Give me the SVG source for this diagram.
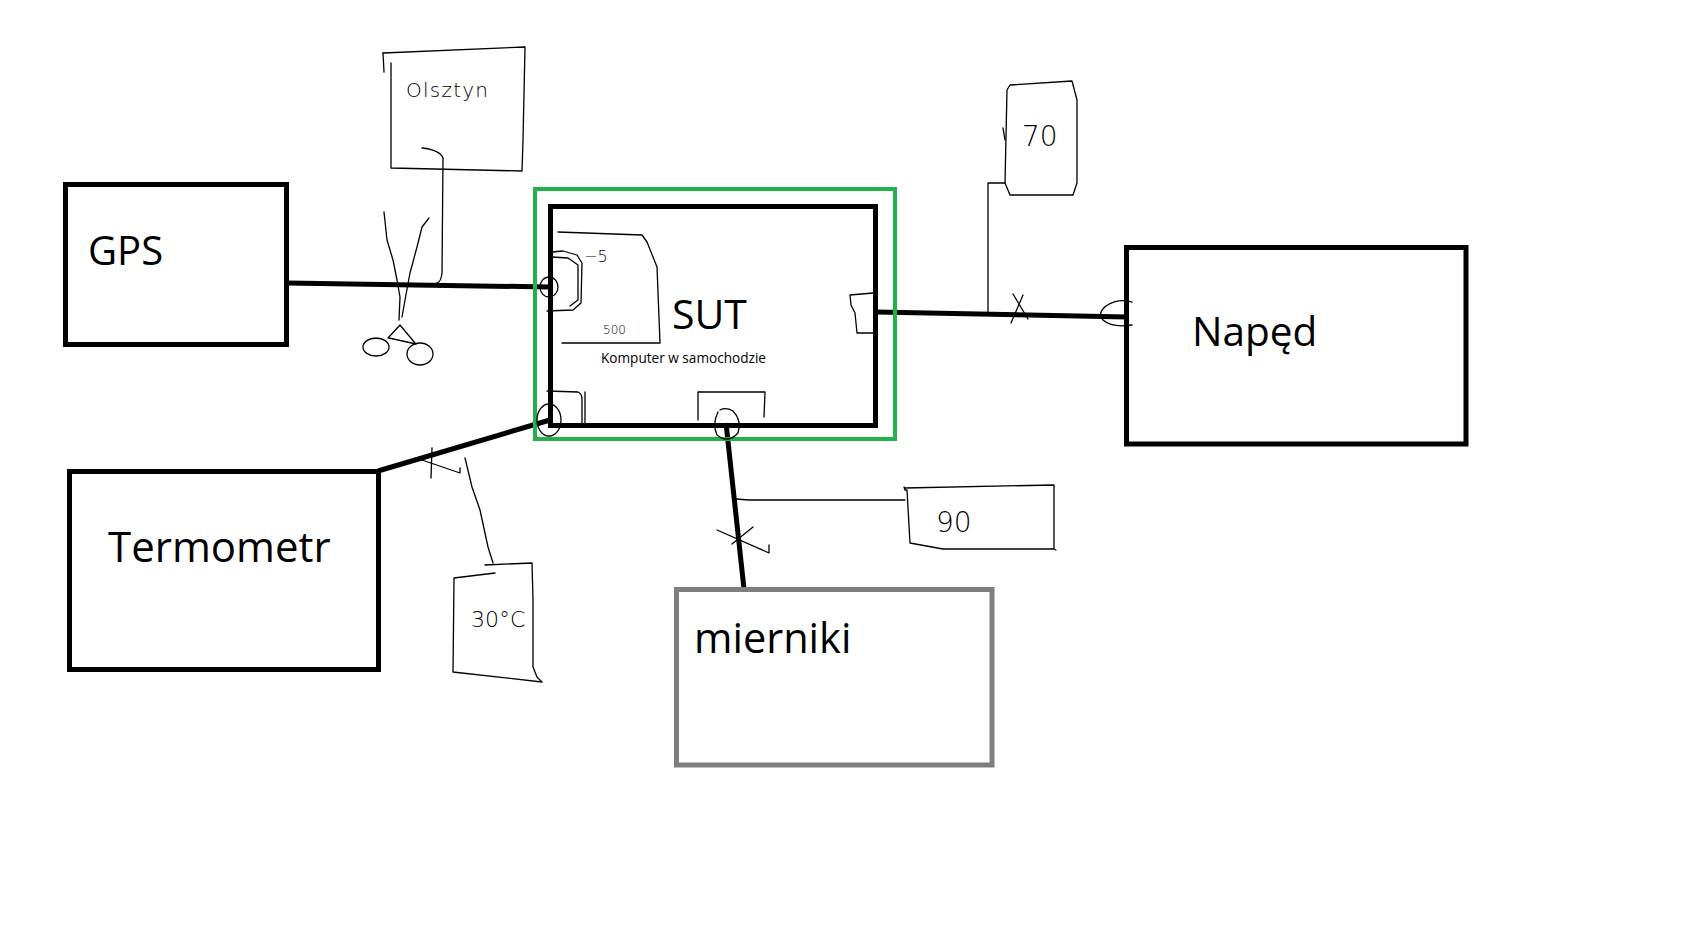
<svg xmlns="http://www.w3.org/2000/svg" width="1692" height="925" viewBox="0 0 1692 925">
<style>
.box{fill:none;stroke:#000;stroke-width:5}
.gray{fill:none;stroke:#7f7f7f;stroke-width:5}
.green{fill:none;stroke:#22b14c;stroke-width:4}
.wire{fill:none;stroke:#000;stroke-width:5;stroke-linecap:butt}
.thin{fill:none;stroke:#000;stroke-width:1.3;stroke-linejoin:round;stroke-linecap:round}
.lbl{font-family:"Open Sans","Noto Sans",sans-serif;fill:#000}
.hw{font-family:"DejaVu Sans","Liberation Sans",sans-serif;font-weight:200;fill:#000}
</style>
<rect width="1692" height="925" fill="#fff"/>

<g id="connectors">
<path class="wire" d="M287,283 L549,287"/>
<path class="wire" d="M876,312 L1127,317"/>
<path class="wire" d="M378,471 L550,420"/>
<path class="wire" d="M726,423 L744,589"/>
</g>

<g id="sut-frame">
<rect class="green" x="535" y="189" width="360" height="250"/>
</g>

<g id="gps">
<rect class="box" x="65.5" y="184.5" width="221" height="160"/>
<text class="lbl" x="88" y="265" font-size="40">GPS</text>
</g>

<g id="sut">
<rect class="box" x="550.5" y="206.5" width="325" height="219"/>
<text class="lbl" x="672" y="329" font-size="41">SUT</text>
<text class="lbl" x="601" y="363" font-size="13.6">Komputer w samochodzie</text>
</g>

<g id="naped">
<rect class="box" x="1126.5" y="247.5" width="339.5" height="196.5"/>
<text class="lbl" x="1192" y="346" font-size="40.5">Napęd</text>
</g>

<g id="termometr">
<rect class="box" x="69.5" y="471.5" width="309" height="198"/>
<text class="lbl" x="108" y="562" font-size="42">Termometr</text>
</g>

<g id="mierniki">
<rect class="gray" x="676.5" y="589.5" width="315.5" height="175.5"/>
<text class="lbl" x="694" y="653" font-size="41.5">mierniki</text>
</g>

<g id="annotations">
<!-- Olsztyn note -->
<path class="thin" d="M383,53 L525,47 L523,140 L522,171 L391,168 L391,63"/>
<path class="thin" d="M383,53 L384,72"/>
<path class="thin" d="M422,148 Q440,150 443,158 L442,273 Q441,282 437,283"/>
<text class="hw" x="406" y="97" font-size="20" textLength="82">Olsztyn</text>
<!-- scissors -->
<path class="thin" d="M384,212 L387,240 L393,260 L397,280 L400,297 L399,320"/>
<path class="thin" d="M429,218 L422,227 L417,247 L410,273 L405,300 L402,317"/>
<path class="thin" d="M388,338 L400,325 L415,343 M389,338 L416,344"/>
<ellipse class="thin" cx="376" cy="347" rx="13" ry="9"/>
<ellipse class="thin" cx="420" cy="354" rx="13" ry="11"/>

<!-- SUT internal sketches -->
<path class="thin" d="M558,232 L642,235 L647,242 L657,267 L660,343 L562,343"/>
<path class="thin" d="M552,252 L563,251 L577,255 L582,263 L581,303 L573,310 L547,311"/>
<path class="thin" d="M552,257 L568,258 L578,265 L578,300 L570,306"/>
<text class="hw" x="584" y="262" font-size="16">−5</text>
<text class="hw" x="603" y="334" font-size="12">500</text>
<ellipse class="thin" cx="549" cy="287" rx="9" ry="10"/>
<path class="thin" d="M873,293 L850,295 L851,305 L855,313 L857,333 L873,333"/>
<path class="thin" d="M698,420 L698,392 L765,392 L764,417"/>
<path class="thin" d="M718,412 Q712,424 717,435 Q728,444 738,433 Q742,420 733,411 Q726,407 720,410"/>
<path class="thin" d="M547,391 L578,392 Q582,394 582,399 L582,425 M585,392 L585,425"/>
<ellipse class="thin" cx="549" cy="420" rx="12" ry="16"/>

<!-- 70 note -->
<path class="thin" d="M1010,85 L1072,81 L1077,100 L1077,183 L1073,195 L1010,195 L1005,183 L1007,90 Z"/>
<path class="thin" d="M1003,128 L1005,140"/>
<path class="thin" d="M1005,183 L988,183 L988,312"/>
<text class="hw" x="1022" y="146" font-size="28">70</text>
<path class="thin" d="M1013,294 L1028,319 M1023,295 L1011,323"/>
<path class="thin" d="M1132,302 Q1118,298 1106,306 Q1097,313 1103,320 Q1112,328 1132,325"/>

<!-- 30°C note -->
<path class="thin" d="M432,448 L431,478 M422,460 L460,473 L460,468"/>
<path class="thin" d="M465,458 L472,487 L480,510 L488,547 L493,563"/>
<path class="thin" d="M485,565 L532,563 L533,600 L533,667 L537,677 L542,682 L453,672 L454,578 L495,573"/>
<text class="hw" x="471" y="627" font-size="22">30°C</text>

<!-- 90 note -->
<path class="thin" d="M736,499 L749,500 L905,500"/>
<path class="thin" d="M904,487 L905,490 L907,490 L910,543 L943,549 L1054,549 L1054,485 L905,488 M1054,549 L1056,550"/>
<text class="hw" x="936" y="532" font-size="28">90</text>
<path class="thin" d="M717,530 L769,553 L769,545 M753,527 L732,544"/>
</g>
</svg>
